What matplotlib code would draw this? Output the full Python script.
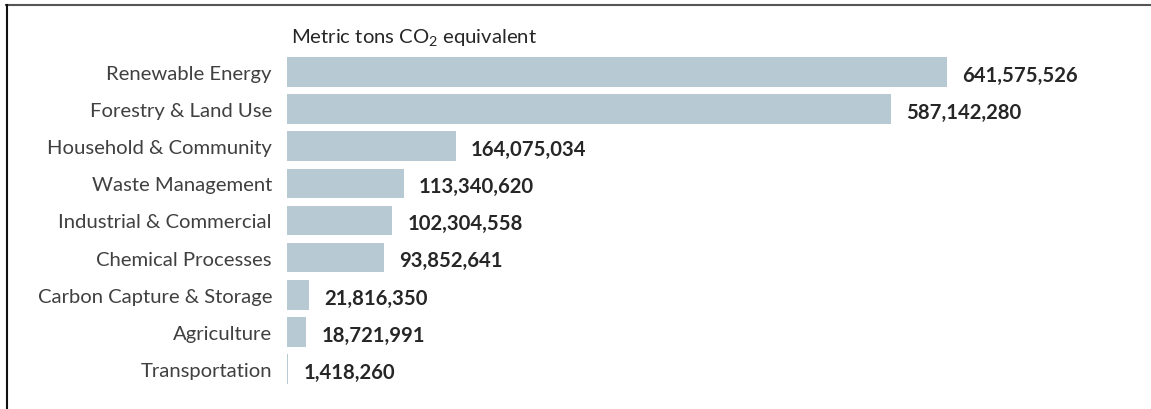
import matplotlib
matplotlib.use('Agg')
import matplotlib.pyplot as plt
from matplotlib.lines import Line2D

# Data.
categories = ['Renewable Energy', 'Forestry & Land Use', 'Household & Community',
              'Waste Management', 'Industrial & Commercial', 'Chemical Processes',
              'Carbon Capture & Storage', 'Agriculture', 'Transportation']
values = [641575526, 587142280, 164075034, 113340620, 102304558,
          93852641, 21816350, 18721991, 1418260]
axis_title = r'Metric tons CO$_2$ equivalent'

plt.rcParams['font.family'] = ['Lato', 'DejaVu Sans']
plt.rcParams['mathtext.fontset'] = 'custom'
plt.rcParams['mathtext.rm'] = 'Lato'
plt.rcParams['mathtext.it'] = 'Lato:italic'
plt.rcParams['mathtext.bf'] = 'Lato:bold'

W, H = 1151, 410
fig = plt.figure(figsize=(W / 100, H / 100), dpi=100)

# Axes placement in pixels
left_px, right_px = 287, 1100
top_px, bottom_px = 54.5, 388.5
ax = fig.add_axes([left_px / W, (H - bottom_px) / H,
                   (right_px - left_px) / W, (bottom_px - top_px) / H])

ypos = list(range(len(categories)))
ax.barh(ypos, values, height=0.8, color='#b7c9d3', edgecolor='none')
ax.set_ylim(len(categories) - 0.5, -0.5)
# largest bar ends at about x=947 px
ax.set_xlim(0, max(values) * (right_px - left_px) / (947 - left_px))

ax.set_yticks(ypos)
ax.set_yticklabels(categories, fontsize=14.6, color='#404040')
ax.tick_params(axis='y', length=0, pad=10.8)
ax.set_xticks([])
for s in ax.spines.values():
    s.set_visible(False)

for y, v in zip(ypos, values):
    ax.annotate(f'{v:,}', xy=(v, y), xytext=(11, -2), textcoords='offset points',
                ha='left', va='center', fontsize=14.6, fontweight='bold', color='#262626')

fig.text(291 / W, 1 - 37 / H, axis_title, ha='left', va='center',
         fontsize=14.6, color='#262626')

# frame lines at top and left of the picture
fig.add_artist(Line2D([6 / W, 1], [1 - 6 / H, 1 - 6 / H], color='#555555', lw=1.5,
                      transform=fig.transFigure))
fig.add_artist(Line2D([7 / W, 7 / W], [0, 1 - 6 / H], color='#111111', lw=1.5,
                      transform=fig.transFigure))

fig.savefig('out.png', dpi=100)
